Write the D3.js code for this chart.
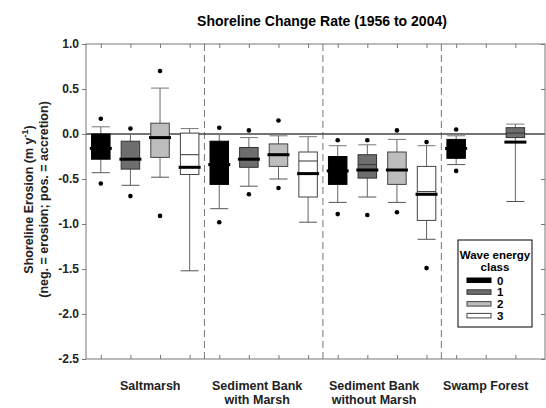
<!DOCTYPE html>
<html>
<head>
<meta charset="utf-8">
<script src="https://cdn.jsdelivr.net/npm/d3@7"></script>
<style>
  body { margin: 0; background: #fff; }
  svg { display: block; font-family: "Liberation Sans", Arial, sans-serif; font-weight: bold; }
</style>
</head>
<body>
<div id="chart"></div>
<script>
// habitats (x groups) and wave energy classes
const habitats = [["Saltmarsh"], ["Sediment Bank", "with Marsh"], ["Sediment Bank", "without Marsh"], ["Swamp Forest"]];
const waveClasses = ["0", "1", "2", "3"];
const yTicks = [1.0, 0.5, 0.0, -0.5, -1.0, -1.5, -2.0, -2.5];

// one entry per box (slot = position along x, 4 slots per habitat)
const boxSlot     = [0, 1, 2, 3, 4, 5, 6, 7, 8, 9, 10, 11, 12, 14];
const boxClass    = [0, 1, 2, 3, 0, 1, 2, 3, 0, 1, 2, 3, 0, 1];
const whiskerHigh = [0.08, 0.00, 0.51, 0.06, 0.00, -0.04, -0.02, -0.03, -0.13, -0.12, -0.06, -0.13, -0.02, 0.11];
const quart3      = [0.00, -0.08, 0.12, 0.01, -0.08, -0.15, -0.11, -0.20, -0.25, -0.23, -0.20, -0.36, -0.06, 0.07];
const medians     = [-0.16, -0.28, -0.04, -0.37, -0.34, -0.28, -0.23, -0.44, -0.41, -0.40, -0.40, -0.67, -0.16, -0.09];
const means       = [null, null, null, -0.23, null, null, null, -0.30, null, -0.34, null, -0.64, null, 0.01];
const quart1      = [-0.28, -0.39, -0.26, -0.45, -0.56, -0.37, -0.36, -0.70, -0.56, -0.49, -0.56, -0.96, -0.27, -0.04];
const whiskerLow  = [-0.43, -0.57, -0.48, -1.52, -0.83, -0.58, -0.50, -0.98, -0.76, -0.70, -0.76, -1.17, -0.34, -0.75];
// outliers: [slot, value]
const outliers = [
  [0, 0.17], [0, -0.55], [1, 0.06], [1, -0.69], [2, 0.70], [2, -0.91],
  [4, 0.07], [4, -0.98], [5, 0.04], [5, -0.67], [6, 0.15], [6, -0.60],
  [8, -0.07], [8, -0.89], [9, -0.07], [9, -0.90], [10, 0.04], [10, -0.87],
  [11, -0.09], [11, -1.49], [12, 0.05], [12, -0.41]
];

const classFill = ["#000000", "#6e6e6e", "#bdbdbd", "#ffffff"];
const classStroke = ["#000000", "#333333", "#444444", "#444444"];
const labelSlot = [1.67, 5.28, 9.23, 13.0];

const width = 546, height = 408;
const plotLeft = 86, plotRight = 545, plotTop = 44, plotBottom = 359;

const svg = d3.select("#chart").append("svg")
  .attr("width", width)
  .attr("height", height);

const x = d3.scaleLinear().domain([-0.5, 15]).range([plotLeft, plotRight]);
const y = d3.scaleLinear().domain([-2.5, 1]).range([plotBottom, plotTop]);

// title
svg.append("text")
  .attr("x", 322).attr("y", 26)
  .attr("text-anchor", "middle")
  .style("font-size", "14px")
  .text("Shoreline Change Rate (1956 to 2004)");

// dividers between habitats
svg.selectAll(".divider")
  .data([3.5, 7.5, 11.5])
  .join("line")
  .attr("x1", d => x(d)).attr("x2", d => x(d))
  .attr("y1", plotTop).attr("y2", plotBottom)
  .attr("stroke", "#777")
  .attr("stroke-dasharray", "7,4");

// zero line
svg.append("line")
  .attr("x1", plotLeft).attr("x2", plotRight)
  .attr("y1", y(0)).attr("y2", y(0))
  .attr("stroke", "#444")
  .attr("stroke-width", 1.3);

// axes
const slots = d3.range(15);
const fmt = d => d.toFixed(1);

const yAxis = svg.append("g")
  .attr("transform", `translate(${plotLeft},0)`)
  .call(d3.axisLeft(y).tickValues(yTicks).tickSize(4).tickPadding(3).tickFormat(fmt));
yAxis.selectAll("text").style("font-size", "12px").attr("fill", "#222");

svg.append("g")
  .attr("transform", `translate(${plotRight},0)`)
  .call(d3.axisLeft(y).tickValues(yTicks).tickSize(4).tickFormat(""));

svg.append("g")
  .attr("transform", `translate(0,${plotTop})`)
  .call(d3.axisBottom(x).tickValues(slots).tickSize(4).tickFormat(""));

svg.append("g")
  .attr("transform", `translate(0,${plotBottom})`)
  .call(d3.axisTop(x).tickValues(slots).tickSize(4).tickFormat(""));

svg.selectAll(".domain").remove();
svg.selectAll(".tick line").attr("stroke", "#777");

// frame
svg.append("rect")
  .attr("x", plotLeft).attr("y", plotTop)
  .attr("width", plotRight - plotLeft).attr("height", plotBottom - plotTop)
  .attr("fill", "none")
  .attr("stroke", "#777");

// boxes
const boxW = 18.5, capW = 18, medW = 22;
const boxes = boxSlot.map((s, i) => ({
  slot: s, cls: boxClass[i], hi: whiskerHigh[i], q3: quart3[i], med: medians[i],
  mean: means[i], q1: quart1[i], lo: whiskerLow[i]
}));

const g = svg.selectAll(".box")
  .data(boxes)
  .join("g")
  .attr("class", "box")
  .attr("transform", d => `translate(${x(d.slot)},0)`);

g.append("line")
  .attr("y1", d => y(d.hi)).attr("y2", d => y(d.q3))
  .attr("stroke", "#666");
g.append("line")
  .attr("y1", d => y(d.q1)).attr("y2", d => y(d.lo))
  .attr("stroke", "#666");
g.append("line")
  .attr("x1", -capW / 2).attr("x2", capW / 2)
  .attr("y1", d => y(d.hi)).attr("y2", d => y(d.hi))
  .attr("stroke", "#777");
g.append("line")
  .attr("x1", -capW / 2).attr("x2", capW / 2)
  .attr("y1", d => y(d.lo)).attr("y2", d => y(d.lo))
  .attr("stroke", "#555");
g.append("rect")
  .attr("x", -boxW / 2)
  .attr("width", boxW)
  .attr("y", d => y(d.q3))
  .attr("height", d => y(d.q1) - y(d.q3))
  .attr("fill", d => classFill[d.cls])
  .attr("stroke", d => classStroke[d.cls]);
g.filter(d => d.mean !== null)
  .append("line")
  .attr("x1", -boxW / 2).attr("x2", boxW / 2)
  .attr("y1", d => y(d.mean)).attr("y2", d => y(d.mean))
  .attr("stroke", "#333");
g.append("line")
  .attr("x1", -medW / 2).attr("x2", medW / 2)
  .attr("y1", d => y(d.med)).attr("y2", d => y(d.med))
  .attr("stroke", "#000")
  .attr("stroke-width", 3);

// outliers
svg.selectAll(".outlier")
  .data(outliers)
  .join("circle")
  .attr("cx", d => x(d[0]))
  .attr("cy", d => y(d[1]))
  .attr("r", 2.3)
  .attr("fill", "#000");

// y axis title
const yt = svg.append("text")
  .attr("transform", `translate(32.5,${(plotTop + plotBottom) / 2 - 2}) rotate(-90)`)
  .attr("text-anchor", "middle")
  .style("font-size", "12.5px")
  .attr("fill", "#222");
yt.append("tspan").text("Shoreline Erosion (m y");
yt.append("tspan").attr("dy", -5).style("font-size", "9px").text("-1");
yt.append("tspan").attr("dy", 5).text(")");
svg.append("text")
  .attr("transform", `translate(47.5,${(plotTop + plotBottom) / 2 - 2}) rotate(-90)`)
  .attr("text-anchor", "middle")
  .style("font-size", "12.5px")
  .attr("fill", "#222")
  .text("(neg. = erosion; pos. = accretion)");

// habitat labels
svg.selectAll(".hab")
  .data(habitats)
  .join("text")
  .attr("class", "hab")
  .attr("text-anchor", "middle")
  .attr("fill", "#222")
  .style("font-size", "12.5px")
  .each(function(d, i) {
    d3.select(this).selectAll("tspan")
      .data(d)
      .join("tspan")
      .attr("x", x(labelSlot[i]))
      .attr("y", (t, j) => 390 + j * 14)
      .text(t => t);
  });

// legend
const legend = svg.append("g").attr("transform", "translate(458,240)");
legend.append("rect")
  .attr("width", 74).attr("height", 87)
  .attr("fill", "#fff").attr("stroke", "#000");
legend.append("text")
  .attr("x", 37).attr("y", 19)
  .attr("text-anchor", "middle")
  .style("font-size", "11.5px")
  .text("Wave energy");
legend.append("text")
  .attr("x", 37).attr("y", 31)
  .attr("text-anchor", "middle")
  .style("font-size", "11.5px")
  .text("class");
const items = legend.selectAll(".item")
  .data(waveClasses)
  .join("g")
  .attr("transform", (d, i) => `translate(0,${38 + i * 11.8})`);
items.append("rect")
  .attr("x", 9).attr("width", 24).attr("height", 4.5)
  .attr("fill", (d, i) => classFill[i])
  .attr("stroke", (d, i) => classStroke[i]);
items.append("text")
  .attr("x", 39).attr("y", 6.5)
  .style("font-size", "11.5px")
  .text(d => d);
</script>
</body>
</html>
